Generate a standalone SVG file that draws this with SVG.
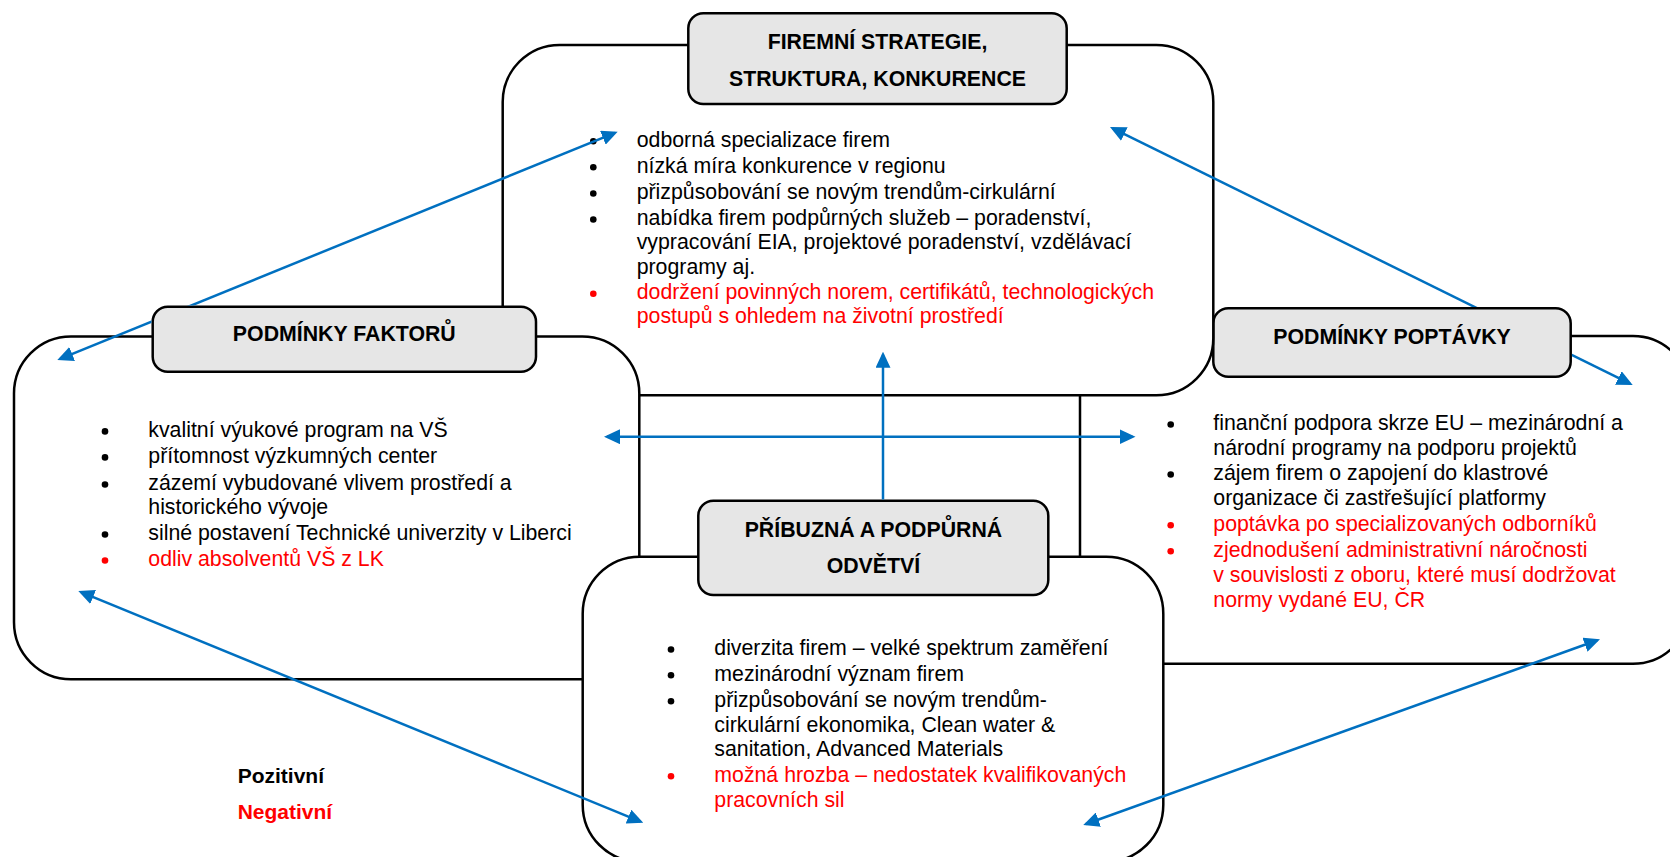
<svg xmlns="http://www.w3.org/2000/svg" width="1670" height="857" viewBox="0 0 1670 857">
  <style>
    .body { fill: #ffffff; stroke: #000000; stroke-width: 2.5; }
    .head { fill: #e6e6e6; stroke: #000000; stroke-width: 2.5; }
    .ht { font-family: "Liberation Sans", Arial, sans-serif; font-weight: bold; font-size: 21.3px; text-anchor: middle; fill: #000000; }
    .t { font-family: "Liberation Sans", Arial, sans-serif; font-size: 21.3px; fill: #000000; }
    .neg { fill: #ff0000; }
    .dot { fill: #000000; }
    .dot.neg { fill: #ff0000; }
    .lg { font-family: "Liberation Sans", Arial, sans-serif; font-weight: bold; font-size: 21px; }
    .arrow { fill: none; stroke: #0070c0; stroke-width: 2.5; }
    .both { marker-start: url(#ah); marker-end: url(#ah); }
    .one { marker-end: url(#ah); }
  </style>
  <defs>
    <marker id="ah" viewBox="0 0 16 15" refX="13" refY="7.5" markerWidth="16" markerHeight="15" markerUnits="userSpaceOnUse" orient="auto-start-reverse">
      <path d="M0,0 L16,7.5 L0,15 Z" fill="#0070c0"/>
    </marker>
    <!-- connectors pass behind the title plates -->
    <mask id="behindHeads" maskUnits="userSpaceOnUse" x="0" y="0" width="1670" height="857">
      <rect x="0" y="0" width="1670" height="857" fill="#ffffff"/>
      <g fill="#000000" stroke="#000000" stroke-width="2.5">
        <rect x="688.3" y="13.3" width="378.4" height="90.7" rx="15"/>
        <rect x="152.7" y="306.7" width="383.3" height="65" rx="15"/>
        <rect x="1213.3" y="308.3" width="357.4" height="68.4" rx="15"/>
        <rect x="698.3" y="500.7" width="350" height="94.3" rx="15"/>
      </g>
    </mask>
  </defs>

  <rect x="0" y="0" width="1670" height="857" fill="#ffffff"/>

  <!-- demand conditions -->
  <g id="podminky-poptavky">
    <rect class="body" x="1080" y="336" width="610" height="327.7" rx="57"/>
    <rect class="head" x="1213.3" y="308.3" width="357.4" height="68.4" rx="15"/>
    <text class="ht" x="1392" y="344">PODMÍNKY POPTÁVKY</text>
    <circle class="dot" cx="1170.7" cy="424.5" r="3.3"/>
    <circle class="dot" cx="1170.7" cy="474.5" r="3.3"/>
    <circle class="dot neg" cx="1170.7" cy="525.2" r="3.3"/>
    <circle class="dot neg" cx="1170.7" cy="551.2" r="3.3"/>
    <text class="t" x="1213.3" y="430">finanční podpora skrze EU – mezinárodní a</text>
    <text class="t" x="1213.3" y="454.5">národní programy na podporu projektů</text>
    <text class="t" x="1213.3" y="480">zájem firem o zapojení do klastrové</text>
    <text class="t" x="1213.3" y="505">organizace či zastřešující platformy</text>
    <text class="t neg" x="1213.3" y="530.7">poptávka po specializovaných odborníků</text>
    <text class="t neg" x="1213.3" y="556.7">zjednodušení administrativní náročnosti</text>
    <text class="t neg" x="1213.3" y="581.7">v souvislosti z oboru, které musí dodržovat</text>
    <text class="t neg" x="1213.3" y="606.7">normy vydané EU, ČR</text>
  </g>

  <!-- firm strategy, structure and rivalry -->
  <g id="firemni-strategie">
    <rect class="body" x="502.7" y="45" width="710.6" height="350.3" rx="57"/>
    <rect class="head" x="688.3" y="13.3" width="378.4" height="90.7" rx="15"/>
    <text class="ht" x="877.5" y="49.3">FIREMNÍ STRATEGIE,</text>
    <text class="ht" x="877.5" y="86">STRUKTURA, KONKURENCE</text>
    <circle class="dot" cx="593.3" cy="141.2" r="3.3"/>
    <circle class="dot" cx="593.3" cy="167.2" r="3.3"/>
    <circle class="dot" cx="593.3" cy="193.5" r="3.3"/>
    <circle class="dot" cx="593.3" cy="219.5" r="3.3"/>
    <circle class="dot neg" cx="593.3" cy="293.8" r="3.3"/>
    <text class="t" x="636.7" y="146.7">odborná specializace firem</text>
    <text class="t" x="636.7" y="172.7">nízká míra konkurence v regionu</text>
    <text class="t" x="636.7" y="199">přizpůsobování se novým trendům-cirkulární</text>
    <text class="t" x="636.7" y="225">nabídka firem podpůrných služeb – poradenství,</text>
    <text class="t" x="636.7" y="249.3">vypracování EIA, projektové poradenství, vzdělávací</text>
    <text class="t" x="636.7" y="274">programy aj.</text>
    <text class="t neg" x="636.7" y="299.3">dodržení povinných norem, certifikátů, technologických</text>
    <text class="t neg" x="636.7" y="323.3">postupů s ohledem na životní prostředí</text>
  </g>

  <!-- factor conditions -->
  <g id="podminky-faktoru">
    <rect class="body" x="14" y="336.5" width="625.3" height="342.8" rx="57"/>
    <rect class="head" x="152.7" y="306.7" width="383.3" height="65" rx="15"/>
    <text class="ht" x="344.3" y="340.7">PODMÍNKY FAKTORŮ</text>
    <circle class="dot" cx="105" cy="431.4" r="3.3"/>
    <circle class="dot" cx="105" cy="457.4" r="3.3"/>
    <circle class="dot" cx="105" cy="484.5" r="3.3"/>
    <circle class="dot" cx="105" cy="534.5" r="3.3"/>
    <circle class="dot neg" cx="105" cy="560.5" r="3.3"/>
    <text class="t" x="148.3" y="437">kvalitní výukové program na VŠ</text>
    <text class="t" x="148.3" y="463">přítomnost výzkumných center</text>
    <text class="t" x="148.3" y="490">zázemí vybudované vlivem prostředí a</text>
    <text class="t" x="148.3" y="514">historického vývoje</text>
    <text class="t" x="148.3" y="540">silné postavení Technické univerzity v Liberci</text>
    <text class="t neg" x="148.3" y="566">odliv absolventů VŠ z LK</text>
  </g>

  <!-- related and supporting industries -->
  <g id="pribuzna-odvetvi">
    <rect class="body" x="582.7" y="556.7" width="580.6" height="305" rx="57"/>
    <rect class="head" x="698.3" y="500.7" width="350" height="94.3" rx="15"/>
    <text class="ht" x="873.4" y="536.7">PŘÍBUZNÁ A PODPŮRNÁ</text>
    <text class="ht" x="873.4" y="573.3">ODVĚTVÍ</text>
    <circle class="dot" cx="671" cy="649.5" r="3.3"/>
    <circle class="dot" cx="671" cy="675.2" r="3.3"/>
    <circle class="dot" cx="671" cy="701.2" r="3.3"/>
    <circle class="dot neg" cx="671" cy="776.2" r="3.3"/>
    <text class="t" x="714.3" y="655">diverzita firem – velké spektrum zaměření</text>
    <text class="t" x="714.3" y="680.7">mezinárodní význam firem</text>
    <text class="t" x="714.3" y="706.7">přizpůsobování se novým trendům-</text>
    <text class="t" x="714.3" y="731.7">cirkulární ekonomika, Clean water &amp;</text>
    <text class="t" x="714.3" y="756">sanitation, Advanced Materials</text>
    <text class="t neg" x="714.3" y="781.7">možná hrozba – nedostatek kvalifikovaných</text>
    <text class="t neg" x="714.3" y="806.7">pracovních sil</text>
  </g>

  <!-- interactions between the four determinants -->
  <g id="connectors" mask="url(#behindHeads)">
    <line class="arrow both" x1="60.1" y1="358.9" x2="614.9" y2="132.8"/>
    <line class="arrow both" x1="1112.7" y1="128.3" x2="1630" y2="383.7"/>
    <line class="arrow both" x1="607" y1="436.7" x2="1132.5" y2="436.7"/>
    <line class="arrow one" x1="883" y1="540" x2="883" y2="354.7"/>
    <line class="arrow both" x1="81.1" y1="592.1" x2="640.5" y2="821.6"/>
    <line class="arrow both" x1="1086.1" y1="824" x2="1597.2" y2="640.3"/>
  </g>

  <!-- legend -->
  <g id="legend">
    <text class="lg" x="237.7" y="782.7" fill="#000000">Pozitivní</text>
    <text class="lg" x="237.7" y="819.3" fill="#ff0000">Negativní</text>
  </g>
</svg>
